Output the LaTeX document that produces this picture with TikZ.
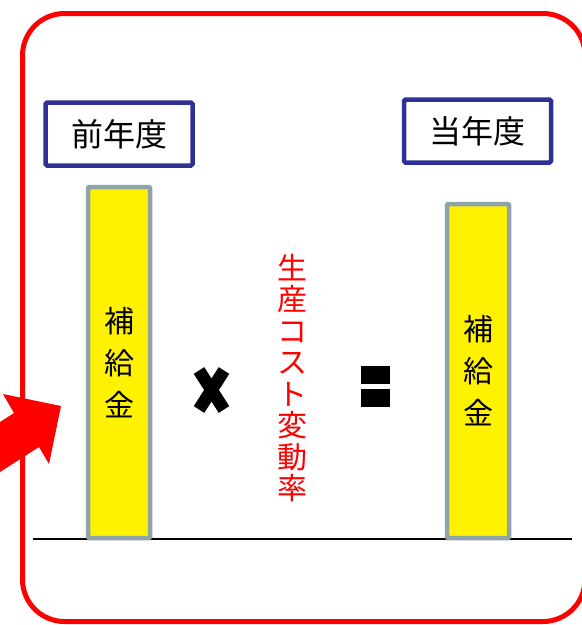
\documentclass[tikz,border=0pt]{standalone}
\usepackage{fontspec}
\setmainfont{Noto Sans CJK JP}
\usetikzlibrary{positioning}
\definecolor{boxblue}{RGB}{46,49,146}
\definecolor{bargrey}{RGB}{142,164,168}

\begin{document}
\begin{tikzpicture}
    [
        x=1pt, y=-1pt,
        year_box/.style={rectangle, draw=boxblue, fill=white, line width=4.5pt, rounded corners=1.5pt, minimum width=147pt, minimum height=63pt, inner sep=0pt, font=\fontsize{32}{32}\selectfont},
        bar_box/.style={rectangle, draw=bargrey, fill=yellow, line width=4.5pt, rounded corners=1pt, minimum width=62pt, inner sep=0pt, align=center, font=\fontsize{30}{42}\selectfont},
        sign_bar/.style={rectangle, fill=black, minimum width=29pt, minimum height=18pt, inner sep=0pt},
    ]
        \useasboundingbox (0,0) rectangle (582,625);
        % frame and arrow
        \draw[red, line width=5pt, rounded corners=42pt] (22.5,13.5) rectangle (585,621.5);
        \fill[red] (0,422) -- (14,413) -- (3,394) -- (61,406) -- (49,464) -- (39,447) -- (0,472) -- cycle;
        % ground line
        \coordinate (ground_l) at (33,539);
        \coordinate (ground_r) at (572,539);
        \draw[line width=2.5pt] (ground_l) -- (ground_r);
        % years
        \node[year_box] (year_prev) at (119,134) {前年度};
        \node[year_box] (year_curr) at (477.5,131) {当年度};
        \node[bar_box, minimum height=351pt] (bar_prev) at (119,362.5) {補\\給\\金};
        \node[bar_box, minimum height=334pt] (bar_curr) at (478,371) {補\\給\\金};
        % times, rate, equals
        \coordinate (times_c) at (211.5,390);
        \draw[line width=12.5pt] ([shift={(-12.5,-19.5)}]times_c) -- ([shift={(12.5,19.5)}]times_c);
        \draw[line width=12.5pt] ([shift={(12.5,-19.5)}]times_c) -- ([shift={(-12.5,19.5)}]times_c);
        \node[text=red, align=center, inner sep=0pt, font=\fontsize{30}{31.5}\selectfont] (rate) at (292,378) {生\\産\\コ\\ス\\ト\\変\\動\\率};
        \node[sign_bar] (eq_top) at (375.5,375) {};
        \node[sign_bar, below=5pt of eq_top, anchor=north] (eq_bottom) {};
    \end{tikzpicture}
\end{document}
